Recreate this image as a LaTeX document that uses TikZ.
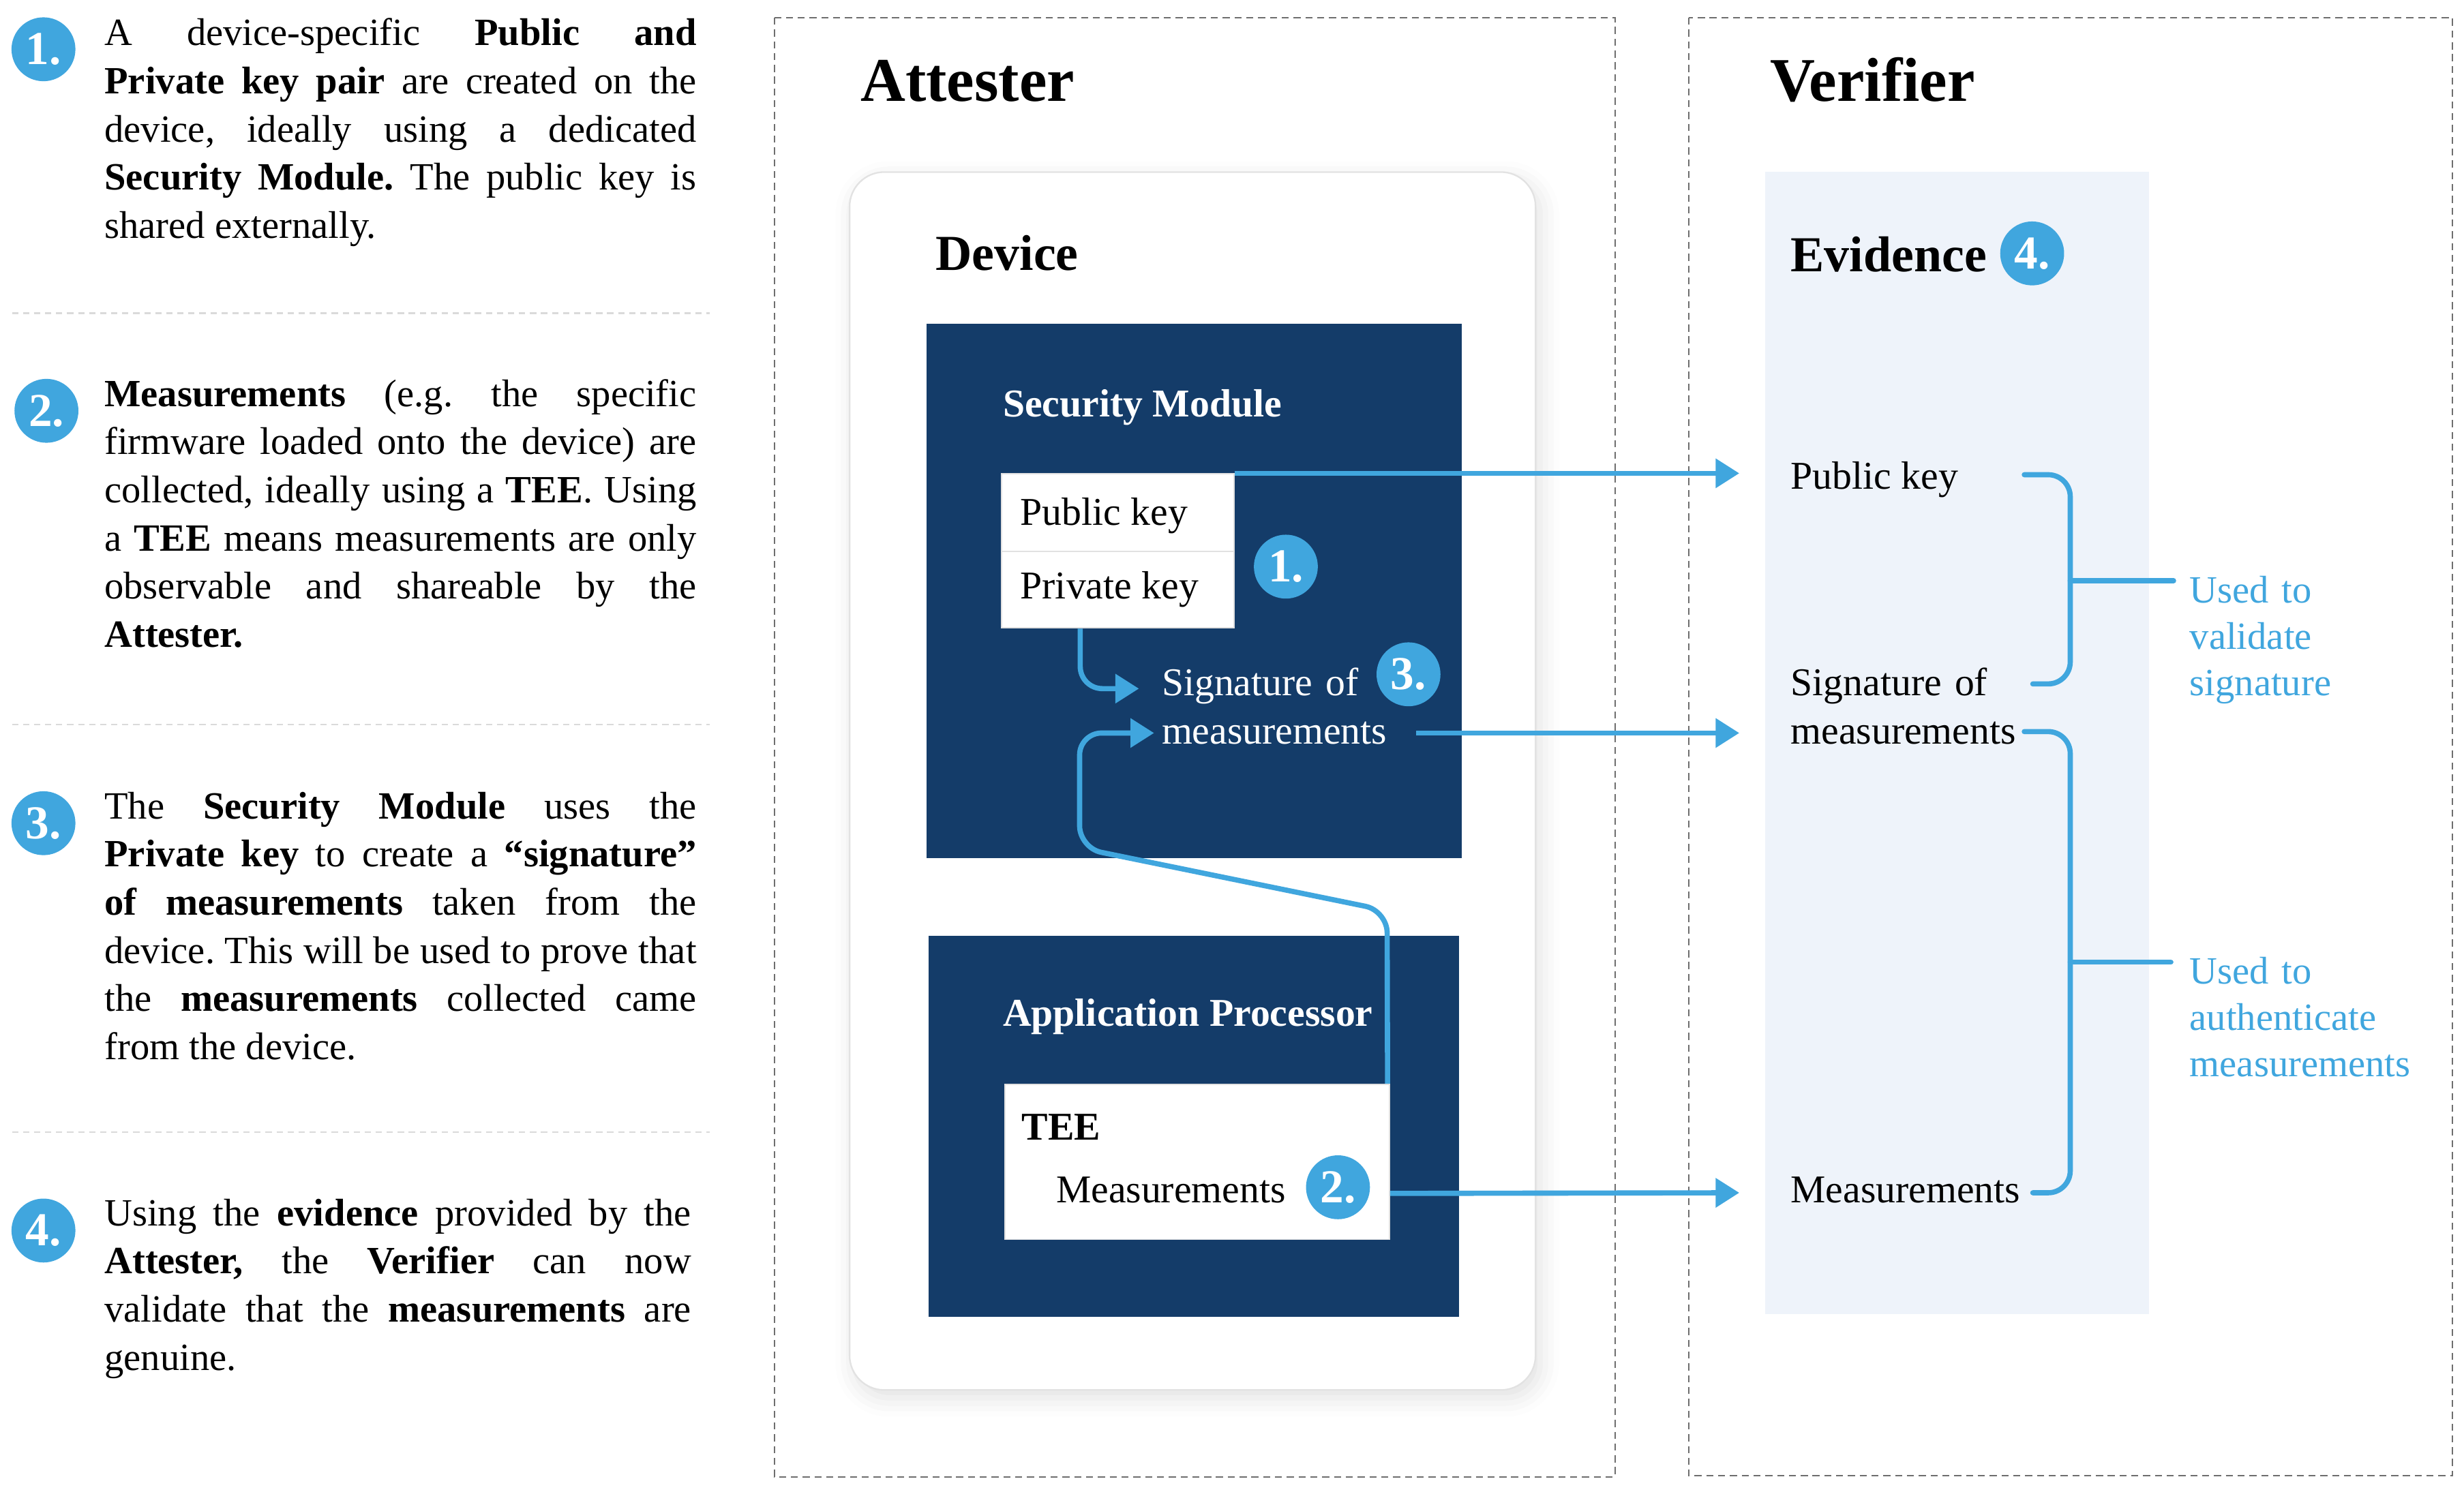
\documentclass[tikz,border=0pt]{standalone}
\usepackage{fontspec}
\setmainfont{Liberation Serif}
\usetikzlibrary{arrows.meta,shadows.blur}
\definecolor{navy}{RGB}{20,60,105}
\definecolor{accent}{RGB}{64,166,222}
\definecolor{evfill}{RGB}{238,243,250}
\definecolor{panelgray}{RGB}{110,110,110}
\definecolor{sepgray}{RGB}{218,218,218}
\definecolor{devborder}{RGB}{226,226,226}
\definecolor{cellgray}{RGB}{225,225,225}
\frenchspacing
\hyphenpenalty=10000
\exhyphenpenalty=10000
\newcommand{\parjust}{\leftskip=0pt\relax\rightskip=0pt\relax\parfillskip=0pt plus 1fil\relax\spaceskip=0pt\relax\xspaceskip=0pt\relax}

\begin{document}
\begin{tikzpicture}[x=1pt,y=-1pt]
							\tikzstyle{para}=[anchor=base west,inner sep=0pt,text width=376pt,font=\fontsize{24.5pt}{30.6pt}\selectfont,execute at begin node=\parjust]
							\tikzstyle{badge}=[circle,fill=accent,text=white,minimum size=40.6pt,inner sep=0pt,font=\fontsize{30pt}{30pt}\selectfont\bfseries]
							\tikzstyle{divider}=[draw=sepgray,line width=1pt,dash pattern=on 4pt off 3pt]
							\tikzstyle{panel}=[draw=panelgray,line width=0.9pt,dash pattern=on 4.5pt off 3pt]
							\tikzstyle{bigtitle}=[anchor=base west,inner sep=0pt,font=\fontsize{39.5pt}{44pt}\selectfont\bfseries]
							\tikzstyle{heading}=[anchor=base west,inner sep=0pt,font=\fontsize{32pt}{36pt}\selectfont\bfseries]
							\tikzstyle{txt}=[anchor=base west,inner sep=0pt,align=left,font=\fontsize{25pt}{30.5pt}\selectfont]
							\tikzstyle{chip}=[anchor=north west,fill=navy,inner sep=0pt]
							\tikzstyle{cell}=[anchor=north west,fill=white,draw=cellgray,line width=0.8pt,inner sep=0pt]
							\tikzstyle{flow}=[draw=accent,line width=3.3pt,-{Triangle[length=15pt,width=18pt]}]
							\tikzstyle{brace}=[draw=accent,line width=3.3pt,line cap=round,rounded corners=14pt]
							\tikzstyle{note}=[anchor=base west,inner sep=0pt,text width=170pt,align=left,text=accent,font=\fontsize{24.5pt}{29.5pt}\selectfont]
							\useasboundingbox (0,0) rectangle (1565,947.5);
							% left column
							\node[badge] (b1) at (27.6,31.3) {1.};
							\node[para] (p1) at (66.2,28.9) {A device-specific \textbf{Public and}\linebreak \textbf{Private key pair} are created on the\linebreak device, ideally using a dedicated\linebreak \textbf{Security Module.} The public key is\linebreak shared externally.};
							\draw[divider] (7.6,199) -- (451,199);
							\node[badge] (b2) at (29.5,261) {2.};
							\node[para] (p2) at (66.2,258.2) {\textbf{Measurements} (e.g.\ the specific\linebreak firmware loaded onto the device) are\linebreak collected, ideally using a \textbf{TEE}. Using\linebreak a \textbf{TEE} means measurements are only\linebreak observable and shareable by the\linebreak \textbf{Attester.}};
							\draw[divider] (7.6,460.3) -- (451,460.3);
							\node[badge] (b3) at (27.6,523) {3.};
							\node[para] (p3) at (66.2,520.2) {The \textbf{Security Module} uses the\linebreak \textbf{Private key} to create a \textbf{“signature”}\linebreak \textbf{of measurements} taken from the\linebreak device. This will be used to prove that\linebreak the \textbf{measurements} collected came\linebreak from the device.};
							\draw[divider] (7.6,719.4) -- (451,719.4);
							\node[badge] (b4) at (27.6,781.8) {4.};
							\node[para,text width=372.7pt] (p4) at (66.2,778.7) {Using the \textbf{evidence} provided by the\linebreak \textbf{Attester,} the \textbf{Verifier} can now\linebreak validate that the \textbf{measurements} are\linebreak genuine.};
							% attester
							\draw[panel] (491.8,11.2) rectangle (1025.7,938.2);
							\node[bigtitle] (att) at (546.4,64.4) {Attester};
							\node[anchor=north west,draw=devborder,line width=1pt,fill=white,rounded corners=22pt,minimum width=435.7pt,minimum height=773.8pt,inner sep=0pt,blur shadow={shadow xshift=3pt,shadow yshift=-5pt,shadow blur radius=12pt,shadow opacity=12}] (dev) at (539.1,108.8) {};
							\node[heading] (devt) at (594.1,171.6) {Device};
							\node[chip,minimum width=340.1pt,minimum height=339.4pt] (sm) at (588.3,205.4) {};
							\node[txt,text=white,font=\fontsize{25pt}{30.5pt}\selectfont\bfseries] (smt) at (636.8,264.9) {Security Module};
							\node[cell,minimum width=147.6pt,minimum height=49.3pt] (pubkey) at (635.8,300.7) {};
							\node[cell,minimum width=147.6pt,minimum height=48.6pt] (privkey) at (635.8,350) {};
							\node[txt] (pubt) at (647.9,333.5) {Public key};
							\node[txt] (privt) at (647.9,380.3) {Private key};
							\node[badge] (k1) at (816.7,360) {1.};
							\node[txt,text=white,text width=160pt] (sig) at (737.7,442) {Signature of\\measurements};
							\node[badge] (k3) at (894.6,428.4) {3.};
							\node[chip,minimum width=336.9pt,minimum height=242pt] (ap) at (589.4,594.4) {};
							\node[txt,text=white,font=\fontsize{25pt}{30.5pt}\selectfont\bfseries] (apt) at (636.8,652.1) {Application Processor};
							\node[cell,minimum width=244.2pt,minimum height=98.6pt] (tee) at (637.9,688.5) {};
							\node[txt,font=\fontsize{25pt}{30.5pt}\selectfont\bfseries] (teet) at (648.7,724.2) {TEE};
							\node[txt] (meas) at (670.6,764.2) {Measurements};
							\node[badge] (k2) at (849.8,754.3) {2.};
							\draw[flow,rounded corners=14pt] ([xshift=-23.9pt]privkey.south) |- (723.4,437.5);
							\draw[flow,rounded corners=14pt] ([xshift=-1.6pt]tee.north east) -- (881,578.6) -- (685.7,538.7) -- (685.7,465.7) -- (733,465.7);
							% verifier
							\draw[panel] (1072.5,11.2) rectangle (1557.6,937.5);
							\node[bigtitle] (ver) at (1124.1,64.4) {Verifier};
							\node[anchor=north west,fill=evfill,inner sep=0pt,minimum width=243.5pt,minimum height=725.7pt] (ev) at (1121,108.8) {};
							\node[heading] (evt) at (1137.2,172.6) {Evidence};
							\node[badge] (k4) at (1290.7,161) {4.};
							\node[txt] (evpub) at (1137.2,310.5) {Public key};
							\node[txt,text width=160pt] (evsig) at (1137.2,442) {Signature of\\measurements};
							\node[txt] (evmeas) at (1137.2,763.9) {Measurements};
							\coordinate (pubin) at (1104.7,300.7);
							\coordinate (sigout) at (899.3,465.7);
							\coordinate (sigin) at (1104.7,465.7);
							\coordinate (measin) at (1104.7,757.8);
							\draw[flow] (pubkey.north east) -- (pubin);
							\draw[flow] (sigout) -- (sigin);
							\draw[flow] ([yshift=-20pt]tee.east) -- (measin);
							\draw[brace] (1285.7,301.6) -- (1314.9,301.6) -- (1314.9,434.5) -- (1291.1,434.5);
							\draw[brace] (1314.9,369) -- (1380.5,369);
							\draw[brace] (1285.7,464.8) -- (1314.9,464.8) -- (1314.9,757.8) -- (1291.1,757.8);
							\draw[brace] (1314.9,611.3) -- (1378.8,611.3);
							\node[note] (n1) at (1390.6,382.8) {Used to\\validate\\signature};
							\node[note] (n2) at (1390.6,625.1) {Used to\\authenticate\\measurements};
							\end{tikzpicture}
\end{document}
